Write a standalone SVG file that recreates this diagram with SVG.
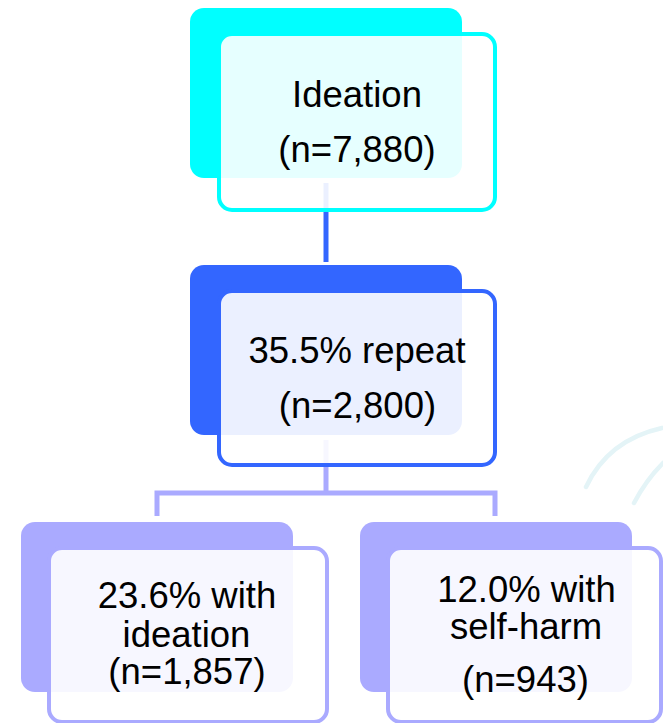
<svg xmlns="http://www.w3.org/2000/svg" width="663" height="723" viewBox="0 0 663 723">
<style>
.back{stroke:none}
.front{fill:#ffffff;fill-opacity:0.9;stroke-width:4}
.lbl{font-family:"Liberation Sans",Arial,sans-serif;font-size:36.5px;fill:#000;text-anchor:middle}
.conn{fill:none;stroke-width:5}
</style>
<rect width="663" height="723" fill="#ffffff"/>
<g id="decor" fill="none" stroke="#e4f4f7" stroke-width="4.5" stroke-linecap="round">
<path d="M586,487 Q608,440 662,428"/>
<path d="M634,503 Q646,480 663,463"/>
</g>
<g id="connectors">
<line class="conn" x1="326" y1="183" x2="326" y2="262" stroke="#3366ff"/>
<path class="conn" d="M326,440 V493 M157,516 V493 H495 V516" stroke="#aaaaff"/>
</g>
<g id="node-ideation">
<rect class="back" x="190" y="8" width="272" height="170" rx="14" fill="#00ffff"/>
<rect class="front" x="219" y="34" width="276" height="176" rx="13" stroke="#00ffff"/>
<text class="lbl" x="357" y="107">Ideation</text>
<text class="lbl" x="357" y="162">(n=7,880)</text>
</g>
<g id="node-repeat">
<rect class="back" x="190" y="265" width="272" height="170" rx="14" fill="#3366ff"/>
<rect class="front" x="219" y="291" width="276" height="174" rx="13" stroke="#3366ff"/>
<text class="lbl" x="357" y="363">35.5% repeat</text>
<text class="lbl" x="357.5" y="418">(n=2,800)</text>
</g>
<g id="node-ideation-repeat">
<rect class="back" x="21" y="522" width="272" height="170" rx="14" fill="#aaaaff"/>
<rect class="front" x="49" y="548" width="278" height="174" rx="13" stroke="#aaaaff"/>
<text class="lbl" x="187" y="608">23.6% with</text>
<text class="lbl" x="186.5" y="647">ideation</text>
<text class="lbl" x="187" y="684">(n=1,857)</text>
</g>
<g id="node-selfharm">
<rect class="back" x="360" y="522" width="272" height="170" rx="14" fill="#aaaaff"/>
<rect class="front" x="388" y="548" width="273" height="174" rx="13" stroke="#aaaaff"/>
<text class="lbl" x="526.5" y="602">12.0% with</text>
<text class="lbl" x="526" y="639">self-harm</text>
<text class="lbl" x="525.5" y="692">(n=943)</text>
</g>
</svg>
